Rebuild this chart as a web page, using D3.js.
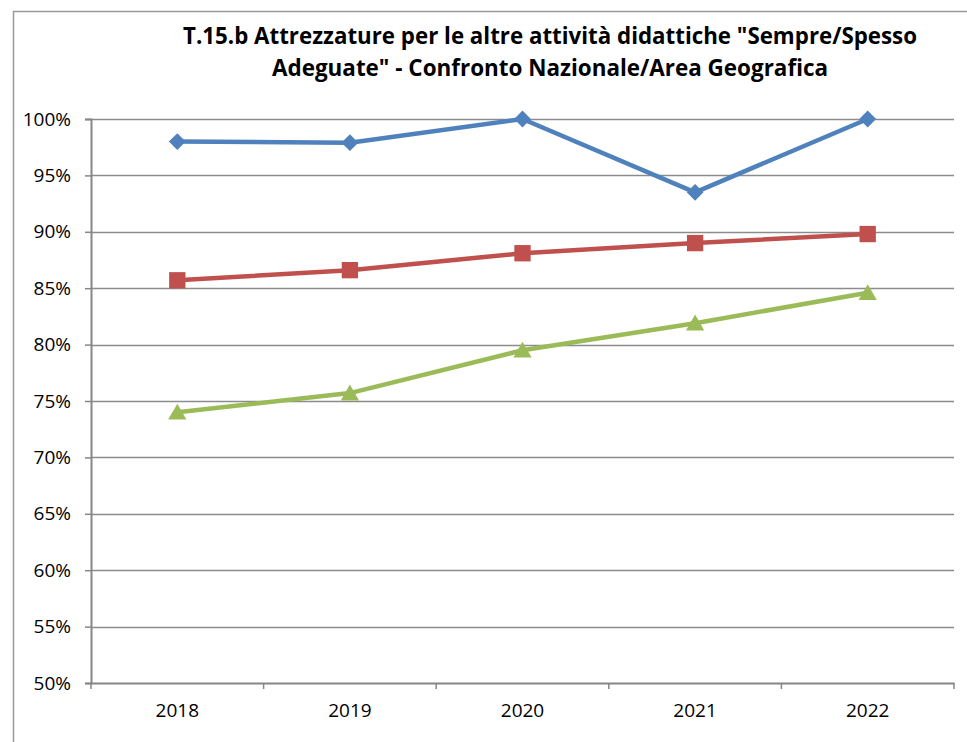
<!DOCTYPE html>
<html>
<head>
<meta charset="utf-8">
<script src="https://cdn.jsdelivr.net/npm/d3@7"></script>
<style>
  body { margin: 0; background: #fff; }
  svg { display: block; font-family: 'Open Sans', 'Liberation Sans', sans-serif; }
</style>
</head>
<body>
<div id="chart"></div>
<script>
var years = ['2018', '2019', '2020', '2021', '2022']
var nazionale = [0.980, 0.979, 1.000, 0.935, 1.000]
var area = [0.857, 0.866, 0.881, 0.890, 0.898]
var geo = [0.740, 0.757, 0.795, 0.819, 0.846]
var yTicks = [0.5, 0.55, 0.6, 0.65, 0.7, 0.75, 0.8, 0.85, 0.9, 0.95, 1]
var titleLines = ['T.15.b Attrezzature per le altre attività didattiche "Sempre/Spesso',
  'Adeguate" - Confronto Nazionale/Area Geografica']

var series = [
  {name: 'blu', values: nazionale, color: '#4F81BD', shape: 'diamond'},
  {name: 'rosso', values: area, color: '#C0504D', shape: 'square'},
  {name: 'verde', values: geo, color: '#9BBB59', shape: 'triangle'}
]

var W = 967, H = 742
var margin = {left: 91, right: 13, top: 119, bottom: 59}
var svg = d3.select('#chart').append('svg').attr('width', W).attr('height', H)

// outer frame
svg.append('rect')
  .attr('x', 13.5).attr('y', 11.5).attr('width', W).attr('height', H)
  .attr('fill', 'none').attr('stroke', '#999').attr('stroke-width', 1.5)

var x = d3.scaleBand().domain(years).range([margin.left, W - margin.right])
var y = d3.scaleLinear().domain([0.5, 1]).range([H - margin.bottom, margin.top])

// title
svg.append('g').selectAll('text').data(titleLines).join('text')
  .attr('x', 550).attr('y', (d, i) => 44 + i * 32)
  .attr('text-anchor', 'middle')
  .attr('font-size', 23).attr('font-weight', 'bold').attr('fill', '#000')
  .attr('textLength', (d, i) => i ? 556 : 734)
  .attr('lengthAdjust', 'spacingAndGlyphs')
  .text(d => d)

// gridlines
svg.append('g').selectAll('line').data(yTicks.slice(1)).join('line')
  .attr('x1', margin.left).attr('x2', W - margin.right)
  .attr('y1', d => Math.round(y(d)) + 0.5).attr('y2', d => Math.round(y(d)) + 0.5)
  .attr('stroke', '#8c8c8c').attr('stroke-width', 1.3)

// y axis
var yAxis = svg.append('g')
  .attr('transform', `translate(${margin.left},0)`)
  .call(d3.axisLeft(y).tickValues(yTicks).tickFormat(d3.format('.0%')).tickSize(6).tickPadding(14))
yAxis.select('.domain').attr('stroke', '#868686').attr('stroke-width', 2)
yAxis.selectAll('.tick line').attr('stroke', '#868686').attr('stroke-width', 1.5)
yAxis.selectAll('text').attr('font-size', 19).attr('fill', '#000').attr('font-family', 'Open Sans')

// x axis
var xAxis = svg.append('g')
  .attr('transform', `translate(0,${H - margin.bottom})`)
  .call(d3.axisBottom(x).tickSize(0).tickPadding(21))
xAxis.select('.domain').attr('stroke', '#868686').attr('stroke-width', 2)
xAxis.selectAll('text').attr('font-size', 19).attr('fill', '#000').attr('font-family', 'Open Sans')
xAxis.selectAll('line.cat').data(d3.range(years.length + 1)).join('line')
  .attr('class', 'cat')
  .attr('x1', i => x.range()[0] + i * x.step()).attr('x2', i => x.range()[0] + i * x.step())
  .attr('y1', 0).attr('y2', 6)
  .attr('stroke', '#868686').attr('stroke-width', 1.5)

var cx = d => x(d) + x.bandwidth() / 2
var line = d3.line().x((d, i) => cx(years[i])).y(d => y(d))

var shapes = {
  diamond: d3.symbol().type(d3.symbolDiamond2).size(180),
  square: d3.symbol().type(d3.symbolSquare2).size(340),
  triangle: d3.symbol().type(d3.symbolTriangle).size(145)
}
var dy = {diamond: 0, square: 0, triangle: 2}

var sSel = svg.append('g').selectAll('g').data(series).join('g')
sSel.append('path')
  .attr('d', d => line(d.values))
  .attr('fill', 'none').attr('stroke', d => d.color).attr('stroke-width', 4.5)
  .attr('stroke-linejoin', 'round')

sSel.each(function(s) {
  d3.select(this).selectAll('path.mk').data(s.values).join('path')
    .attr('class', 'mk')
    .attr('transform', (d, i) => `translate(${cx(years[i])},${y(d) + dy[s.shape]})`)
    .attr('d', shapes[s.shape]())
    .attr('fill', s.color)
})
</script>
</body>
</html>
